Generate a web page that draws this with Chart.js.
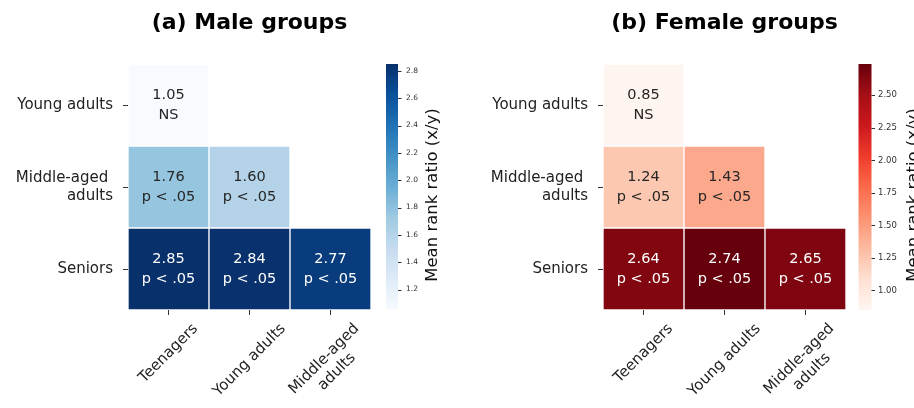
<!DOCTYPE html>
<html>
<head>
<meta charset="utf-8">
<title>Mean rank ratios by age group</title>
<script src="https://cdn.jsdelivr.net/npm/chart.js@4.4.0/dist/chart.umd.min.js"></script>
<style>
  html, body { margin: 0; padding: 0; background: #ffffff; }
  #wrap { position: relative; width: 914px; height: 408px; overflow: hidden; background: #ffffff; }
  #wrap canvas { position: absolute; top: 0; }
</style>
</head>
<body>
<div id="wrap">
  <canvas id="male" width="457" height="408" style="left:0px"></canvas>
  <canvas id="female" width="457" height="408" style="left:457px"></canvas>
</div>
<script>
// ---- tick labels ----
const rowLabels = ['Young adults', ['Middle-aged ', 'adults'], 'Seniors'];
const colLabels = ['Teenagers', 'Young adults', ['Middle-aged', 'adults']];

// ---- mean rank ratios (x/y): one array per row group, one entry per column group ----
const maleYoungAdults   = [1.05, null, null];
const maleMiddleAged    = [1.76, 1.60, null];
const maleSeniors       = [2.85, 2.84, 2.77];
const femaleYoungAdults = [0.85, null, null];
const femaleMiddleAged  = [1.24, 1.43, null];
const femaleSeniors     = [2.64, 2.74, 2.65];

// ---- significance of each comparison ----
const maleSigYoungAdults   = ['NS', null, null];
const maleSigMiddleAged    = ['p < .05', 'p < .05', null];
const maleSigSeniors       = ['p < .05', 'p < .05', 'p < .05'];
const femaleSigYoungAdults = ['NS', null, null];
const femaleSigMiddleAged  = ['p < .05', 'p < .05', null];
const femaleSigSeniors     = ['p < .05', 'p < .05', 'p < .05'];

// ---- colour bar tick labels ----
const maleCbTicks   = [1.2, 1.4, 1.6, 1.8, 2.0, 2.2, 2.4, 2.6, 2.8];
const femaleCbTicks = [1.00, 1.25, 1.50, 1.75, 2.00, 2.25, 2.50];

// ColorBrewer sequential palettes (Blues / Reds)
const BLUES = ['#f7fbff', '#deebf7', '#c6dbef', '#9ecae1', '#6baed6', '#4292c6', '#2171b5', '#08519c', '#08306b'];
const REDS  = ['#fff5f0', '#fee0d2', '#fcbba1', '#fc9272', '#fb6a4a', '#ef3b2c', '#cb181d', '#a50f15', '#67000d'];

const FONT = "'DejaVu Sans', 'Liberation Sans', sans-serif";
Chart.defaults.font.family = FONT;

function hexToRgb(h) {
  return [parseInt(h.slice(1, 3), 16), parseInt(h.slice(3, 5), 16), parseInt(h.slice(5, 7), 16)];
}
function sampleMap(stops, t) {
  t = Math.max(0, Math.min(1, t));
  const pos = t * (stops.length - 1);
  const i = Math.min(Math.floor(pos), stops.length - 2);
  const f = pos - i;
  const a = hexToRgb(stops[i]), b = hexToRgb(stops[i + 1]);
  return a.map((c, k) => Math.round(c + (b[k] - c) * f));
}
function rgbStr(c) { return 'rgb(' + c[0] + ',' + c[1] + ',' + c[2] + ')'; }
function luminance(c) {
  const lin = c.map(v => { v /= 255; return v <= 0.03928 ? v / 12.92 : Math.pow((v + 0.055) / 1.055, 2.4); });
  return 0.2126 * lin[0] + 0.7152 * lin[1] + 0.0722 * lin[2];
}

function makePanel(id, p) {
  const all = p.rows.flat().filter(v => v != null);
  const vmin = Math.min(...all), vmax = Math.max(...all);
  const colorOf = v => sampleMap(p.stops, (v - vmin) / (vmax - vmin));

  const datasets = p.rows.map((vals, r) => ({
    label: Array.isArray(rowLabels[r]) ? rowLabels[r].join(' ') : rowLabels[r],
    data: vals.map(v => v == null ? null : [r, r + 1]),
    backgroundColor: vals.map(v => v == null ? 'rgba(0,0,0,0)' : rgbStr(colorOf(v))),
    borderColor: '#ffffff',
    borderWidth: 1,
    borderSkipped: false,
    grouped: false,
    barPercentage: 1,
    categoryPercentage: 1,
    yAxisID: 'y'
  }));

  const heatPlugin = {
    id: 'heatDecor',
    afterDraw(chart) {
      const ctx = chart.ctx;
      const area = chart.chartArea;
      const xs = chart.scales.x;
      const cb = chart.scales.cb;

      // panel title
      ctx.save();
      ctx.fillStyle = '#000000';
      ctx.font = 'bold 22px ' + FONT;
      ctx.textAlign = 'center';
      ctx.textBaseline = 'alphabetic';
      ctx.fillText(p.title, (area.left + area.right) / 2, 29);
      ctx.restore();

      // cell annotations: ratio and significance
      ctx.save();
      ctx.font = '14.5px ' + FONT;
      ctx.textAlign = 'center';
      ctx.textBaseline = 'middle';
      chart.data.datasets.forEach((ds, r) => {
        const meta = chart.getDatasetMeta(r);
        p.rows[r].forEach((v, i) => {
          if (v == null) return;
          const el = meta.data[i];
          const cx = el.x;
          const cy = (el.y + el.base) / 2;
          ctx.fillStyle = luminance(colorOf(v)) > 0.408 ? '#262626' : '#ffffff';
          ctx.fillText(v.toFixed(2), cx, cy - 10);
          ctx.fillText(p.sig[r][i], cx, cy + 10);
        });
      });
      ctx.restore();

      // rotated column labels (centred under each tick)
      ctx.save();
      ctx.font = '15px ' + FONT;
      ctx.fillStyle = '#222222';
      ctx.textAlign = 'center';
      ctx.textBaseline = 'middle';
      const lh = 18;
      colLabels.forEach((lab, i) => {
        const lines = Array.isArray(lab) ? lab : [lab];
        const w = Math.max(...lines.map(s => ctx.measureText(s).width));
        const H = lines.length * lh;
        const half = (w + H) * Math.SQRT1_2 / 2;
        const tx = xs.getPixelForTick(i);
        ctx.save();
        ctx.translate(tx, area.bottom + 10 + half);
        ctx.rotate(-Math.PI / 4);
        lines.forEach((s, j) => ctx.fillText(s, 0, (j - (lines.length - 1) / 2) * lh));
        ctx.restore();
      });
      ctx.restore();

      // colour bar drawn along the cb scale
      ctx.save();
      const bx = area.right + p.cbGap;
      for (let y = Math.floor(cb.top); y < Math.ceil(cb.bottom); y++) {
        const v = cb.getValueForPixel(y + 0.5);
        ctx.fillStyle = rgbStr(colorOf(v));
        ctx.fillRect(bx, y, p.cbWidth, 1);
      }
      ctx.strokeStyle = '#333333';
      ctx.lineWidth = 1;
      cb.ticks.forEach(t => {
        const py = Math.round(cb.getPixelForValue(t.value)) + 0.5;
        ctx.beginPath();
        ctx.moveTo(bx + p.cbWidth, py);
        ctx.lineTo(bx + p.cbWidth + 3.5, py);
        ctx.stroke();
      });
      // colour bar label
      ctx.fillStyle = '#111111';
      ctx.font = '16.5px ' + FONT;
      ctx.textAlign = 'center';
      ctx.textBaseline = 'alphabetic';
      ctx.translate(area.right + p.cbLabelOffset, (cb.top + cb.bottom) / 2 + 8);
      ctx.rotate(-Math.PI / 2);
      ctx.fillText('Mean rank ratio (x/y)', 0, 0);
      ctx.restore();
    }
  };

  return new Chart(document.getElementById(id), {
    type: 'bar',
    data: { labels: colLabels, datasets },
    options: {
      responsive: false,
      animation: false,
      devicePixelRatio: 1,
      events: [],
      layout: { padding: { top: 64, left: 0, right: 0, bottom: 0 } },
      plugins: { legend: { display: false }, tooltip: { enabled: false }, title: { display: false } },
      scales: {
        x: {
          type: 'category',
          offset: true,
          grid: { display: true, offset: false, drawOnChartArea: false, drawTicks: true, tickLength: 5, color: '#333333', lineWidth: 1 },
          border: { display: false },
          ticks: { display: false },
          afterFit: s => { s.height = 98; }
        },
        y: {
          type: 'linear',
          position: 'left',
          min: 0,
          max: 3,
          reverse: true,
          afterBuildTicks: s => { s.ticks = [0.5, 1.5, 2.5].map(v => ({ value: v })); },
          ticks: {
            callback: (v, i) => rowLabels[i],
            font: { size: 15, family: FONT },
            color: '#222222',
            padding: 10,
            autoSkip: false
          },
          grid: { display: true, drawOnChartArea: false, drawTicks: true, tickLength: 5, color: '#333333', lineWidth: 1 },
          border: { display: false },
          afterFit: s => { s.width = p.left; }
        },
        cb: {
          type: 'linear',
          position: 'right',
          min: vmin,
          max: vmax,
          afterBuildTicks: s => { s.ticks = p.cbTicks.map(v => ({ value: v })); },
          ticks: {
            callback: v => v.toFixed(p.cbDecimals),
            font: { size: p.cbFont, family: FONT },
            color: '#333333',
            padding: p.cbPad,
            autoSkip: false
          },
          grid: { display: false, drawTicks: false },
          border: { display: false },
          afterFit: s => { s.width = p.rightW; }
        }
      }
    },
    plugins: [heatPlugin]
  });
}

makePanel('male', {
  title: '(a) Male groups',
  rows: [maleYoungAdults, maleMiddleAged, maleSeniors],
  sig: [maleSigYoungAdults, maleSigMiddleAged, maleSigSeniors],
  stops: BLUES,
  cbTicks: maleCbTicks,
  cbDecimals: 1,
  cbFont: 7.5,
  cbPad: 35,
  cbGap: 15,
  cbWidth: 12,
  cbLabelOffset: 66,
  left: 128,
  rightW: 86
});

makePanel('female', {
  title: '(b) Female groups',
  rows: [femaleYoungAdults, femaleMiddleAged, femaleSeniors],
  sig: [femaleSigYoungAdults, femaleSigMiddleAged, femaleSigSeniors],
  stops: REDS,
  cbTicks: femaleCbTicks,
  cbDecimals: 2,
  cbFont: 8.5,
  cbPad: 32,
  cbGap: 12.5,
  cbWidth: 13,
  cbLabelOffset: 72,
  left: 146,
  rightW: 68
});
</script>
</body>
</html>
